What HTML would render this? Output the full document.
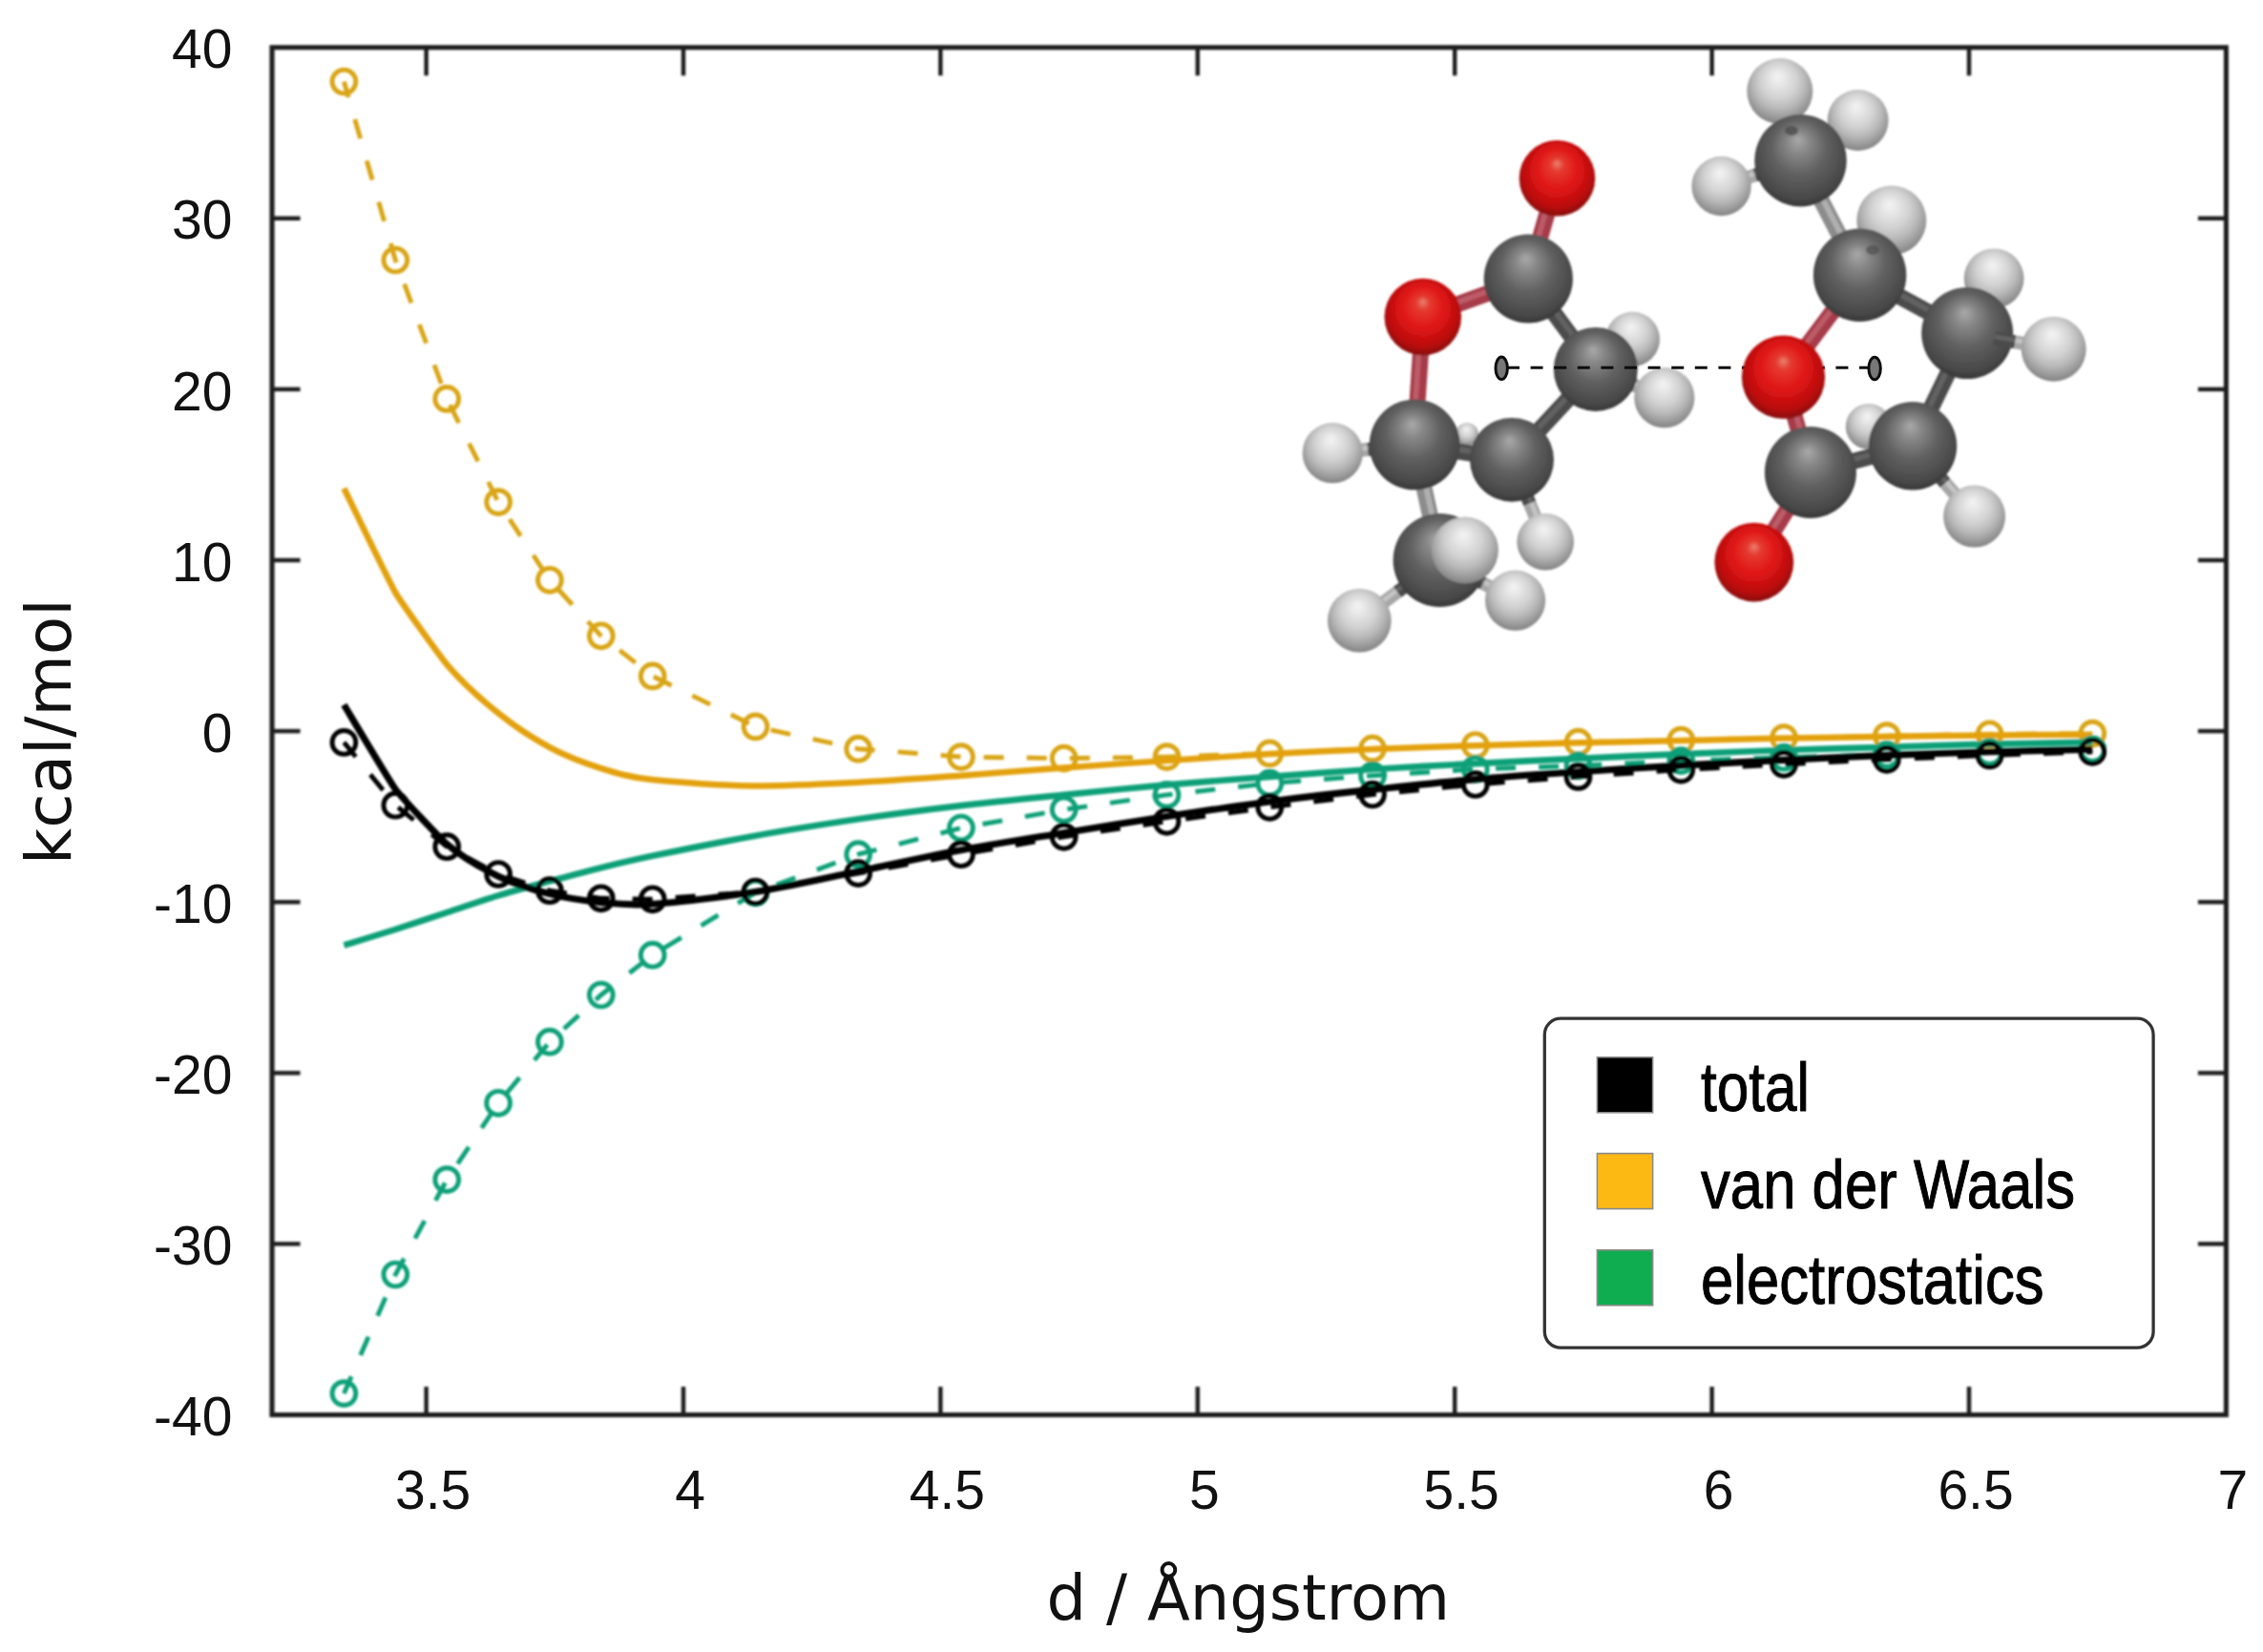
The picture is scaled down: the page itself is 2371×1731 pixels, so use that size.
<!DOCTYPE html>
<html lang="en"><head><meta charset="utf-8"><title>Interaction energy</title>
<style>html,body{margin:0;padding:0;background:#fff;overflow:hidden}svg{display:block}.tk{font-family:"Liberation Sans",sans-serif;font-size:57px;fill:#111}.ax{font-family:"DejaVu Sans","Liberation Sans",sans-serif;fill:#111}.lg{font-family:"Liberation Sans",sans-serif;font-size:73px;fill:#000;stroke:#000;stroke-width:1px}</style></head><body>
<svg width="2371" height="1731" viewBox="0 0 2371 1731">
<defs>
<radialGradient id="gC" cx="0.5" cy="0.44" r="0.58" fx="0.47" fy="0.27"><stop offset="0" stop-color="#a9a9a9"/><stop offset="0.22" stop-color="#868686"/><stop offset="0.52" stop-color="#606060"/><stop offset="0.85" stop-color="#494949"/><stop offset="1" stop-color="#343434"/></radialGradient>
<radialGradient id="gO" cx="0.5" cy="0.45" r="0.57" fx="0.5" fy="0.3"><stop offset="0" stop-color="#e8826e"/><stop offset="0.16" stop-color="#e53a30"/><stop offset="0.5" stop-color="#df1414"/><stop offset="0.82" stop-color="#b80e0e"/><stop offset="1" stop-color="#7c0909"/></radialGradient>
<radialGradient id="gH" cx="0.5" cy="0.42" r="0.6" fx="0.47" fy="0.27"><stop offset="0" stop-color="#f4f4f4"/><stop offset="0.22" stop-color="#e4e4e4"/><stop offset="0.45" stop-color="#d2d2d2"/><stop offset="0.65" stop-color="#bababa"/><stop offset="0.82" stop-color="#9e9e9e"/><stop offset="1" stop-color="#7e7e7e"/></radialGradient>
<filter id="soft" x="-5%" y="-5%" width="110%" height="110%"><feGaussianBlur stdDeviation="1.2"/></filter>
<filter id="soft2" x="-5%" y="-50%" width="110%" height="200%"><feGaussianBlur stdDeviation="0.6"/></filter>
<filter id="soft3" filterUnits="userSpaceOnUse" x="0" y="0" width="2371" height="1731"><feGaussianBlur stdDeviation="0.9"/></filter>
</defs>
<rect x="0" y="0" width="2371" height="1731" fill="#fff"/>
<g id="curves" stroke-linecap="butt" filter="url(#soft3)">
<polyline points="360.4,85.5 414.3,272.5 468.2,417.9 522.1,526.1 575.9,607.8 629.8,666.3 683.7,708.4 791.5,761.4 899.2,784.7 1007.0,793.1 1114.7,794.6 1222.5,793.1 1330.3,789.4 1438.0,784.4 1545.8,781.0 1653.5,777.7 1761.3,775.6 1869.0,773.1 1976.8,771.1 2084.6,769.3 2192.3,768.6" fill="none" stroke="#D9A513" stroke-width="4.9" stroke-dasharray="21 24.1" stroke-dashoffset="4"/>
<circle cx="360.4" cy="85.5" r="12.4" fill="none" stroke="#D9A513" stroke-width="4.9"/>
<circle cx="414.3" cy="272.5" r="12.4" fill="none" stroke="#D9A513" stroke-width="4.9"/>
<circle cx="468.2" cy="417.9" r="12.4" fill="none" stroke="#D9A513" stroke-width="4.9"/>
<circle cx="522.1" cy="526.1" r="12.4" fill="none" stroke="#D9A513" stroke-width="4.9"/>
<circle cx="575.9" cy="607.8" r="12.4" fill="none" stroke="#D9A513" stroke-width="4.9"/>
<circle cx="629.8" cy="666.3" r="12.4" fill="none" stroke="#D9A513" stroke-width="4.9"/>
<circle cx="683.7" cy="708.4" r="12.4" fill="none" stroke="#D9A513" stroke-width="4.9"/>
<circle cx="791.5" cy="761.4" r="12.4" fill="none" stroke="#D9A513" stroke-width="4.9"/>
<circle cx="899.2" cy="784.7" r="12.4" fill="none" stroke="#D9A513" stroke-width="4.9"/>
<circle cx="1007.0" cy="793.1" r="12.4" fill="none" stroke="#D9A513" stroke-width="4.9"/>
<circle cx="1114.7" cy="794.6" r="12.4" fill="none" stroke="#D9A513" stroke-width="4.9"/>
<circle cx="1222.5" cy="793.1" r="12.4" fill="none" stroke="#D9A513" stroke-width="4.9"/>
<circle cx="1330.3" cy="789.4" r="12.4" fill="none" stroke="#D9A513" stroke-width="4.9"/>
<circle cx="1438.0" cy="784.4" r="12.4" fill="none" stroke="#D9A513" stroke-width="4.9"/>
<circle cx="1545.8" cy="781.0" r="12.4" fill="none" stroke="#D9A513" stroke-width="4.9"/>
<circle cx="1653.5" cy="777.7" r="12.4" fill="none" stroke="#D9A513" stroke-width="4.9"/>
<circle cx="1761.3" cy="775.6" r="12.4" fill="none" stroke="#D9A513" stroke-width="4.9"/>
<circle cx="1869.0" cy="773.1" r="12.4" fill="none" stroke="#D9A513" stroke-width="4.9"/>
<circle cx="1976.8" cy="771.1" r="12.4" fill="none" stroke="#D9A513" stroke-width="4.9"/>
<circle cx="2084.6" cy="769.3" r="12.4" fill="none" stroke="#D9A513" stroke-width="4.9"/>
<circle cx="2192.3" cy="768.6" r="12.4" fill="none" stroke="#D9A513" stroke-width="4.9"/>
<path d="M360.4,511.8 C363.6,518.2 408.0,610.3 414.3,621.0 C420.6,631.8 461.9,688.9 468.2,696.3 C484.4,715.2 505.9,734.3 522.1,747.3 C538.2,760.3 559.8,774.4 575.9,783.1 C592.1,791.8 613.7,800.0 629.8,805.1 C646.0,810.2 659.5,814.4 683.7,817.1 C707.9,819.9 759.1,823.0 791.5,823.4 C823.8,823.8 866.9,821.4 899.2,819.8 C931.5,818.2 974.7,815.0 1007.0,812.7 C1039.3,810.4 1082.4,806.8 1114.7,804.4 C1147.1,802.1 1190.2,799.1 1222.5,796.9 C1254.8,794.8 1297.9,791.9 1330.3,790.1 C1362.6,788.3 1405.7,786.2 1438.0,784.9 C1470.3,783.6 1513.4,782.3 1545.8,781.3 C1578.1,780.3 1621.2,779.1 1653.5,778.3 C1685.9,777.5 1729.0,776.8 1761.3,776.1 C1793.6,775.4 1836.7,774.3 1869.0,773.6 C1901.4,773.0 1944.5,772.3 1976.8,771.8 C2009.1,771.3 2052.2,770.7 2084.6,770.4 C2116.9,770.1 2176.2,769.8 2192.3,769.7" fill="none" stroke="#E3A10A" stroke-width="6.5" stroke-linejoin="round"/>
<polyline points="360.4,1460.1 414.3,1335.5 468.2,1236.1 522.1,1155.8 575.9,1091.7 629.8,1042.5 683.7,1000.7 791.5,935.3 899.2,895.2 1007.0,867.5 1114.7,848.3 1222.5,832.9 1330.3,820.7 1438.0,812.7 1545.8,806.0 1653.5,802.3 1761.3,797.1 1869.0,793.7 1976.8,790.8 2084.6,788.1 2192.3,785.3" fill="none" stroke="#0FA078" stroke-width="4.9" stroke-dasharray="21 24.1" stroke-dashoffset="1.5"/>
<circle cx="360.4" cy="1460.1" r="12.4" fill="none" stroke="#0FA078" stroke-width="4.9"/>
<circle cx="414.3" cy="1335.5" r="12.4" fill="none" stroke="#0FA078" stroke-width="4.9"/>
<circle cx="468.2" cy="1236.1" r="12.4" fill="none" stroke="#0FA078" stroke-width="4.9"/>
<circle cx="522.1" cy="1155.8" r="12.4" fill="none" stroke="#0FA078" stroke-width="4.9"/>
<circle cx="575.9" cy="1091.7" r="12.4" fill="none" stroke="#0FA078" stroke-width="4.9"/>
<circle cx="629.8" cy="1042.5" r="12.4" fill="none" stroke="#0FA078" stroke-width="4.9"/>
<circle cx="683.7" cy="1000.7" r="12.4" fill="none" stroke="#0FA078" stroke-width="4.9"/>
<circle cx="791.5" cy="935.3" r="12.4" fill="none" stroke="#0FA078" stroke-width="4.9"/>
<circle cx="899.2" cy="895.2" r="12.4" fill="none" stroke="#0FA078" stroke-width="4.9"/>
<circle cx="1007.0" cy="867.5" r="12.4" fill="none" stroke="#0FA078" stroke-width="4.9"/>
<circle cx="1114.7" cy="848.3" r="12.4" fill="none" stroke="#0FA078" stroke-width="4.9"/>
<circle cx="1222.5" cy="832.9" r="12.4" fill="none" stroke="#0FA078" stroke-width="4.9"/>
<circle cx="1330.3" cy="820.7" r="12.4" fill="none" stroke="#0FA078" stroke-width="4.9"/>
<circle cx="1438.0" cy="812.7" r="12.4" fill="none" stroke="#0FA078" stroke-width="4.9"/>
<circle cx="1545.8" cy="806.0" r="12.4" fill="none" stroke="#0FA078" stroke-width="4.9"/>
<circle cx="1653.5" cy="802.3" r="12.4" fill="none" stroke="#0FA078" stroke-width="4.9"/>
<circle cx="1761.3" cy="797.1" r="12.4" fill="none" stroke="#0FA078" stroke-width="4.9"/>
<circle cx="1869.0" cy="793.7" r="12.4" fill="none" stroke="#0FA078" stroke-width="4.9"/>
<circle cx="1976.8" cy="790.8" r="12.4" fill="none" stroke="#0FA078" stroke-width="4.9"/>
<circle cx="2084.6" cy="788.1" r="12.4" fill="none" stroke="#0FA078" stroke-width="4.9"/>
<circle cx="2192.3" cy="785.3" r="12.4" fill="none" stroke="#0FA078" stroke-width="4.9"/>
<path d="M360.4,990.5 C363.6,989.5 408.0,975.9 414.3,973.9 C420.6,971.9 461.9,958.2 468.2,956.1 C484.4,950.8 505.9,943.3 522.1,938.4 C538.2,933.5 559.8,927.7 575.9,923.3 C592.1,919.0 613.7,913.2 629.8,909.2 C646.0,905.2 659.5,901.9 683.7,896.8 C707.9,891.8 759.1,881.5 791.5,875.7 C823.8,869.9 866.9,863.1 899.2,858.3 C931.5,853.6 974.7,848.0 1007.0,844.2 C1039.3,840.4 1082.4,836.2 1114.7,832.9 C1147.1,829.6 1190.2,825.2 1222.5,822.3 C1254.8,819.5 1297.9,816.4 1330.3,813.9 C1362.6,811.5 1405.7,808.1 1438.0,806.0 C1470.3,804.0 1513.4,801.8 1545.8,800.1 C1578.1,798.5 1621.2,796.4 1653.5,794.9 C1685.9,793.4 1729.0,791.4 1761.3,790.1 C1793.6,788.8 1836.7,787.1 1869.0,786.0 C1901.4,784.9 1944.5,783.7 1976.8,782.8 C2009.1,781.8 2052.2,780.5 2084.6,779.7 C2116.9,779.0 2176.2,778.0 2192.3,777.7" fill="none" stroke="#0FA078" stroke-width="6.7" stroke-linejoin="round"/>
<polyline points="360.4,777.9 414.3,843.7 468.2,887.2 522.1,916.0 575.9,933.2 629.8,941.3 683.7,942.3 791.5,934.5 899.2,915.1 1007.0,895.2 1114.7,876.8 1222.5,860.8 1330.3,845.8 1438.0,832.5 1545.8,822.0 1653.5,813.9 1761.3,806.6 1869.0,800.8 1976.8,795.8 2084.6,791.4 2192.3,787.8" fill="none" stroke="#050505" stroke-width="4.9" stroke-dasharray="21 24.1" stroke-dashoffset="1.5"/>
<circle cx="360.4" cy="777.9" r="12.4" fill="none" stroke="#050505" stroke-width="4.9"/>
<circle cx="414.3" cy="843.7" r="12.4" fill="none" stroke="#050505" stroke-width="4.9"/>
<circle cx="468.2" cy="887.2" r="12.4" fill="none" stroke="#050505" stroke-width="4.9"/>
<circle cx="522.1" cy="916.0" r="12.4" fill="none" stroke="#050505" stroke-width="4.9"/>
<circle cx="575.9" cy="933.2" r="12.4" fill="none" stroke="#050505" stroke-width="4.9"/>
<circle cx="629.8" cy="941.3" r="12.4" fill="none" stroke="#050505" stroke-width="4.9"/>
<circle cx="683.7" cy="942.3" r="12.4" fill="none" stroke="#050505" stroke-width="4.9"/>
<circle cx="791.5" cy="934.5" r="12.4" fill="none" stroke="#050505" stroke-width="4.9"/>
<circle cx="899.2" cy="915.1" r="12.4" fill="none" stroke="#050505" stroke-width="4.9"/>
<circle cx="1007.0" cy="895.2" r="12.4" fill="none" stroke="#050505" stroke-width="4.9"/>
<circle cx="1114.7" cy="876.8" r="12.4" fill="none" stroke="#050505" stroke-width="4.9"/>
<circle cx="1222.5" cy="860.8" r="12.4" fill="none" stroke="#050505" stroke-width="4.9"/>
<circle cx="1330.3" cy="845.8" r="12.4" fill="none" stroke="#050505" stroke-width="4.9"/>
<circle cx="1438.0" cy="832.5" r="12.4" fill="none" stroke="#050505" stroke-width="4.9"/>
<circle cx="1545.8" cy="822.0" r="12.4" fill="none" stroke="#050505" stroke-width="4.9"/>
<circle cx="1653.5" cy="813.9" r="12.4" fill="none" stroke="#050505" stroke-width="4.9"/>
<circle cx="1761.3" cy="806.6" r="12.4" fill="none" stroke="#050505" stroke-width="4.9"/>
<circle cx="1869.0" cy="800.8" r="12.4" fill="none" stroke="#050505" stroke-width="4.9"/>
<circle cx="1976.8" cy="795.8" r="12.4" fill="none" stroke="#050505" stroke-width="4.9"/>
<circle cx="2084.6" cy="791.4" r="12.4" fill="none" stroke="#050505" stroke-width="4.9"/>
<circle cx="2192.3" cy="787.8" r="12.4" fill="none" stroke="#050505" stroke-width="4.9"/>
<path d="M360.4,738.5 C363.6,743.7 408.0,818.5 414.3,827.0 C420.6,835.5 461.9,879.2 468.2,884.5 C484.4,898.2 505.9,910.3 522.1,918.2 C538.2,926.0 559.8,932.5 575.9,936.6 C592.1,940.7 613.7,943.9 629.8,945.6 C646.0,947.2 659.5,949.0 683.7,947.3 C707.9,945.7 759.1,939.6 791.5,934.5 C823.8,929.3 866.9,919.5 899.2,913.0 C931.5,906.4 974.7,896.8 1007.0,890.8 C1039.3,884.7 1082.4,878.0 1114.7,872.7 C1147.1,867.4 1190.2,860.4 1222.5,855.5 C1254.8,850.6 1297.9,844.1 1330.3,839.9 C1362.6,835.7 1405.7,830.8 1438.0,827.4 C1470.3,823.9 1513.4,819.4 1545.8,816.6 C1578.1,813.8 1621.2,810.9 1653.5,808.7 C1685.9,806.5 1729.0,804.0 1761.3,802.1 C1793.6,800.2 1836.7,798.0 1869.0,796.4 C1901.4,794.8 1944.5,792.6 1976.8,791.4 C2009.1,790.1 2052.2,788.7 2084.6,787.8 C2116.9,786.9 2176.2,785.6 2192.3,785.3" fill="none" stroke="#050505" stroke-width="7.1" stroke-linejoin="round"/>
</g>
<g id="molecule" stroke-linecap="butt" filter="url(#soft)">
<circle cx="1710.5" cy="355.3" r="28.5" fill="url(#gH)"/>
<circle cx="1537.0" cy="455.0" r="12.0" fill="url(#gH)"/>
<line x1="1692.2" y1="370.2" x2="1700.6" y2="363.3" stroke="#4b4b4b" stroke-width="13"/>
<line x1="1691.3" y1="369.0" x2="1699.7" y2="362.1" stroke="#6a6a6a" stroke-width="4.4" opacity="0.75"/>
<line x1="1700.6" y1="363.3" x2="1697.3" y2="366.1" stroke="#a6a6a6" stroke-width="13"/>
<line x1="1699.7" y1="362.1" x2="1696.3" y2="364.9" stroke="#cfcfcf" stroke-width="4.4" opacity="0.75"/>
<line x1="1624.9" y1="209.8" x2="1609.0" y2="265.1" stroke="#a63a48" stroke-width="17"/>
<line x1="1623.0" y1="209.2" x2="1607.1" y2="264.6" stroke="#c46672" stroke-width="5.8" opacity="0.75"/>
<line x1="1513.5" y1="323.8" x2="1575.0" y2="301.5" stroke="#a63a48" stroke-width="17"/>
<line x1="1512.8" y1="321.9" x2="1574.3" y2="299.6" stroke="#c46672" stroke-width="5.8" opacity="0.75"/>
<line x1="1489.3" y1="356.1" x2="1484.0" y2="437.5" stroke="#a63a48" stroke-width="17"/>
<line x1="1487.2" y1="356.0" x2="1482.0" y2="437.4" stroke="#c46672" stroke-width="5.8" opacity="0.75"/>
<line x1="1618.0" y1="314.4" x2="1656.1" y2="365.7" stroke="#4b4b4b" stroke-width="17"/>
<line x1="1619.6" y1="313.2" x2="1657.7" y2="364.5" stroke="#6a6a6a" stroke-width="5.8" opacity="0.75"/>
<line x1="1653.9" y1="406.3" x2="1601.9" y2="462.3" stroke="#4b4b4b" stroke-width="17"/>
<line x1="1652.4" y1="404.9" x2="1600.4" y2="460.9" stroke="#6a6a6a" stroke-width="5.8" opacity="0.75"/>
<line x1="1510.3" y1="470.3" x2="1557.9" y2="477.7" stroke="#4b4b4b" stroke-width="17"/>
<line x1="1510.6" y1="468.2" x2="1558.2" y2="475.6" stroke="#6a6a6a" stroke-width="5.8" opacity="0.75"/>
<line x1="1453.9" y1="468.8" x2="1432.8" y2="471.0" stroke="#4b4b4b" stroke-width="14"/>
<line x1="1453.7" y1="467.1" x2="1432.7" y2="469.3" stroke="#6a6a6a" stroke-width="4.8" opacity="0.75"/>
<line x1="1432.8" y1="471.0" x2="1415.1" y2="472.8" stroke="#a6a6a6" stroke-width="14"/>
<line x1="1432.7" y1="469.3" x2="1414.9" y2="471.1" stroke="#cfcfcf" stroke-width="4.8" opacity="0.75"/>
<line x1="1488.3" y1="493.7" x2="1502.3" y2="558.3" stroke="#8c8c8c" stroke-width="17"/>
<line x1="1490.3" y1="493.3" x2="1504.3" y2="557.8" stroke="#bdbdbd" stroke-width="5.8" opacity="0.75"/>
<line x1="1594.0" y1="506.1" x2="1602.8" y2="527.7" stroke="#4b4b4b" stroke-width="14"/>
<line x1="1595.6" y1="505.5" x2="1604.4" y2="527.1" stroke="#6a6a6a" stroke-width="4.8" opacity="0.75"/>
<line x1="1602.8" y1="527.7" x2="1612.4" y2="551.2" stroke="#a6a6a6" stroke-width="14"/>
<line x1="1604.4" y1="527.1" x2="1614.0" y2="550.5" stroke="#cfcfcf" stroke-width="4.8" opacity="0.75"/>
<line x1="1485.1" y1="604.6" x2="1463.9" y2="620.5" stroke="#4b4b4b" stroke-width="14"/>
<line x1="1484.1" y1="603.3" x2="1462.9" y2="619.2" stroke="#6a6a6a" stroke-width="4.8" opacity="0.75"/>
<line x1="1463.9" y1="620.5" x2="1440.3" y2="638.2" stroke="#a6a6a6" stroke-width="14"/>
<line x1="1462.9" y1="619.2" x2="1439.3" y2="636.8" stroke="#cfcfcf" stroke-width="4.8" opacity="0.75"/>
<line x1="1534.5" y1="600.9" x2="1554.2" y2="611.4" stroke="#4b4b4b" stroke-width="14"/>
<line x1="1535.3" y1="599.4" x2="1555.0" y2="609.9" stroke="#6a6a6a" stroke-width="4.8" opacity="0.75"/>
<line x1="1554.2" y1="611.4" x2="1570.9" y2="620.3" stroke="#a6a6a6" stroke-width="14"/>
<line x1="1555.0" y1="609.9" x2="1571.7" y2="618.8" stroke="#cfcfcf" stroke-width="4.8" opacity="0.75"/>
<line x1="1696.2" y1="397.0" x2="1713.1" y2="404.0" stroke="#4b4b4b" stroke-width="14"/>
<line x1="1696.8" y1="395.4" x2="1713.7" y2="402.4" stroke="#6a6a6a" stroke-width="4.8" opacity="0.75"/>
<line x1="1713.1" y1="404.0" x2="1726.3" y2="409.4" stroke="#a6a6a6" stroke-width="14"/>
<line x1="1713.7" y1="402.4" x2="1726.9" y2="407.9" stroke="#cfcfcf" stroke-width="4.8" opacity="0.75"/>
<circle cx="1631.5" cy="186.8" r="39.8" fill="url(#gO)"/>
<circle cx="1601.3" cy="292.0" r="46.6" fill="url(#gC)"/>
<circle cx="1490.8" cy="332.0" r="40.3" fill="url(#gO)"/>
<circle cx="1396.2" cy="474.7" r="31.6" fill="url(#gH)"/>
<circle cx="1482.2" cy="465.9" r="47.4" fill="url(#gC)"/>
<circle cx="1584.0" cy="481.7" r="44.0" fill="url(#gC)"/>
<circle cx="1671.8" cy="386.9" r="44.0" fill="url(#gC)"/>
<circle cx="1743.8" cy="416.7" r="31.6" fill="url(#gH)"/>
<circle cx="1619.2" cy="567.7" r="29.8" fill="url(#gH)"/>
<circle cx="1424.3" cy="650.2" r="33.4" fill="url(#gH)"/>
<circle cx="1508.6" cy="587.0" r="49.0" fill="url(#gC)"/>
<circle cx="1587.6" cy="629.2" r="31.6" fill="url(#gH)"/>
<circle cx="1534.9" cy="576.5" r="35.0" fill="url(#gH)"/>
<circle cx="1981.8" cy="230.9" r="36.5" fill="url(#gH)"/>
<circle cx="2089.1" cy="291.8" r="31.4" fill="url(#gH)"/>
<circle cx="1957.8" cy="446.9" r="24.0" fill="url(#gH)"/>
<circle cx="1864.8" cy="95.5" r="34.5" fill="url(#gH)"/>
<circle cx="1946.6" cy="126.0" r="32.0" fill="url(#gH)"/>
<line x1="1859.0" y1="177.1" x2="1838.4" y2="183.7" stroke="#4b4b4b" stroke-width="14"/>
<line x1="1858.5" y1="175.5" x2="1837.9" y2="182.1" stroke="#6a6a6a" stroke-width="4.8" opacity="0.75"/>
<line x1="1838.4" y1="183.7" x2="1821.4" y2="189.2" stroke="#a6a6a6" stroke-width="14"/>
<line x1="1837.9" y1="182.1" x2="1820.9" y2="187.6" stroke="#cfcfcf" stroke-width="4.8" opacity="0.75"/>
<line x1="1899.8" y1="193.9" x2="1935.2" y2="262.2" stroke="#8c8c8c" stroke-width="17"/>
<line x1="1901.6" y1="192.9" x2="1937.0" y2="261.3" stroke="#bdbdbd" stroke-width="5.8" opacity="0.75"/>
<line x1="1974.3" y1="302.1" x2="2035.9" y2="335.4" stroke="#4b4b4b" stroke-width="17"/>
<line x1="1975.3" y1="300.3" x2="2036.8" y2="333.6" stroke="#6a6a6a" stroke-width="5.8" opacity="0.75"/>
<line x1="1931.1" y1="311.6" x2="1884.2" y2="374.3" stroke="#a63a48" stroke-width="17"/>
<line x1="1929.5" y1="310.4" x2="1882.5" y2="373.0" stroke="#c46672" stroke-width="5.8" opacity="0.75"/>
<line x1="2048.6" y1="375.0" x2="2016.1" y2="442.3" stroke="#4b4b4b" stroke-width="17"/>
<line x1="2046.8" y1="374.1" x2="2014.2" y2="441.4" stroke="#6a6a6a" stroke-width="5.8" opacity="0.75"/>
<line x1="1977.2" y1="474.1" x2="1924.8" y2="487.7" stroke="#4b4b4b" stroke-width="17"/>
<line x1="1976.7" y1="472.2" x2="1924.3" y2="485.7" stroke="#6a6a6a" stroke-width="5.8" opacity="0.75"/>
<line x1="2022.2" y1="488.1" x2="2038.2" y2="506.4" stroke="#4b4b4b" stroke-width="14"/>
<line x1="2023.5" y1="487.0" x2="2039.5" y2="505.3" stroke="#6a6a6a" stroke-width="4.8" opacity="0.75"/>
<line x1="2038.2" y1="506.4" x2="2055.8" y2="526.4" stroke="#a6a6a6" stroke-width="14"/>
<line x1="2039.5" y1="505.3" x2="2057.0" y2="525.3" stroke="#cfcfcf" stroke-width="4.8" opacity="0.75"/>
<line x1="1875.7" y1="420.4" x2="1889.0" y2="467.2" stroke="#a63a48" stroke-width="17"/>
<line x1="1877.6" y1="419.8" x2="1891.0" y2="466.6" stroke="#c46672" stroke-width="5.8" opacity="0.75"/>
<line x1="1881.6" y1="519.3" x2="1851.0" y2="568.1" stroke="#a63a48" stroke-width="17"/>
<line x1="1879.9" y1="518.2" x2="1849.3" y2="567.0" stroke="#c46672" stroke-width="5.8" opacity="0.75"/>
<circle cx="1803.6" cy="195.0" r="31.2" fill="url(#gH)"/>
<circle cx="1886.5" cy="168.2" r="48.2" fill="url(#gC)"/>
<ellipse cx="1877" cy="137" rx="7" ry="5" fill="#4e4e4e" opacity="0.8"/>
<circle cx="1948.6" cy="288.2" r="48.7" fill="url(#gC)"/>
<ellipse cx="1962" cy="262" rx="7" ry="5" fill="#4e4e4e" opacity="0.7"/>
<circle cx="2061.2" cy="349.1" r="48.0" fill="url(#gC)"/>
<line x1="2089.5" y1="354.3" x2="2111.4" y2="358.3" stroke="#4b4b4b" stroke-width="14"/>
<line x1="2089.8" y1="352.6" x2="2111.7" y2="356.6" stroke="#6a6a6a" stroke-width="4.8" opacity="0.75"/>
<line x1="2111.4" y1="358.3" x2="2131.6" y2="362.0" stroke="#a6a6a6" stroke-width="14"/>
<line x1="2111.7" y1="356.6" x2="2131.9" y2="360.4" stroke="#cfcfcf" stroke-width="4.8" opacity="0.75"/>
<circle cx="2151.7" cy="365.7" r="34.0" fill="url(#gH)"/>
<circle cx="1896.9" cy="494.9" r="48.0" fill="url(#gC)"/>
<circle cx="2004.0" cy="467.2" r="46.2" fill="url(#gC)"/>
<circle cx="2068.6" cy="541.1" r="32.5" fill="url(#gH)"/>
<circle cx="1837.8" cy="589.1" r="41.4" fill="url(#gO)"/>
</g>
<g id="distance" filter="url(#soft2)">
<line x1="1573" y1="385.3" x2="1964" y2="385.3" stroke="#111" stroke-width="3" stroke-dasharray="13 11.6" stroke-dashoffset="-6"/>
<ellipse cx="1573.2" cy="385.8" rx="6.2" ry="11.8" fill="#777" stroke="#111" stroke-width="3"/>
<ellipse cx="1964.1" cy="386" rx="6.2" ry="11.8" fill="#777" stroke="#111" stroke-width="3"/>
</g>
<g filter="url(#soft)">
<circle cx="1868.5" cy="395.2" r="43.6" fill="url(#gO)"/>
</g>
<g id="axes" stroke="#1c1c1c" stroke-width="5" fill="none" stroke-linecap="butt" filter="url(#soft3)">
<rect x="285.0" y="49.7" width="2047.4" height="1432.8"/>
<line stroke-width="4.4" x1="446.6" y1="1482.5" x2="446.6" y2="1453.0"/>
<line stroke-width="4.4" x1="446.6" y1="49.7" x2="446.6" y2="79.2"/>
<line stroke-width="4.4" x1="716.0" y1="1482.5" x2="716.0" y2="1453.0"/>
<line stroke-width="4.4" x1="716.0" y1="49.7" x2="716.0" y2="79.2"/>
<line stroke-width="4.4" x1="985.4" y1="1482.5" x2="985.4" y2="1453.0"/>
<line stroke-width="4.4" x1="985.4" y1="49.7" x2="985.4" y2="79.2"/>
<line stroke-width="4.4" x1="1254.8" y1="1482.5" x2="1254.8" y2="1453.0"/>
<line stroke-width="4.4" x1="1254.8" y1="49.7" x2="1254.8" y2="79.2"/>
<line stroke-width="4.4" x1="1524.2" y1="1482.5" x2="1524.2" y2="1453.0"/>
<line stroke-width="4.4" x1="1524.2" y1="49.7" x2="1524.2" y2="79.2"/>
<line stroke-width="4.4" x1="1793.6" y1="1482.5" x2="1793.6" y2="1453.0"/>
<line stroke-width="4.4" x1="1793.6" y1="49.7" x2="1793.6" y2="79.2"/>
<line stroke-width="4.4" x1="2063.0" y1="1482.5" x2="2063.0" y2="1453.0"/>
<line stroke-width="4.4" x1="2063.0" y1="49.7" x2="2063.0" y2="79.2"/>
<line stroke-width="4.4" x1="285.0" y1="1303.4" x2="314.5" y2="1303.4"/>
<line stroke-width="4.4" x1="2332.4" y1="1303.4" x2="2302.9" y2="1303.4"/>
<line stroke-width="4.4" x1="285.0" y1="1124.3" x2="314.5" y2="1124.3"/>
<line stroke-width="4.4" x1="2332.4" y1="1124.3" x2="2302.9" y2="1124.3"/>
<line stroke-width="4.4" x1="285.0" y1="945.2" x2="314.5" y2="945.2"/>
<line stroke-width="4.4" x1="2332.4" y1="945.2" x2="2302.9" y2="945.2"/>
<line stroke-width="4.4" x1="285.0" y1="766.1" x2="314.5" y2="766.1"/>
<line stroke-width="4.4" x1="2332.4" y1="766.1" x2="2302.9" y2="766.1"/>
<line stroke-width="4.4" x1="285.0" y1="587.0" x2="314.5" y2="587.0"/>
<line stroke-width="4.4" x1="2332.4" y1="587.0" x2="2302.9" y2="587.0"/>
<line stroke-width="4.4" x1="285.0" y1="407.9" x2="314.5" y2="407.9"/>
<line stroke-width="4.4" x1="2332.4" y1="407.9" x2="2302.9" y2="407.9"/>
<line stroke-width="4.4" x1="285.0" y1="228.8" x2="314.5" y2="228.8"/>
<line stroke-width="4.4" x1="2332.4" y1="228.8" x2="2302.9" y2="228.8"/>
</g>
<g id="ticklabels" class="tk">
<text x="453.6" y="1580.8" text-anchor="middle">3.5</text>
<text x="723.0" y="1580.8" text-anchor="middle">4</text>
<text x="992.4" y="1580.8" text-anchor="middle">4.5</text>
<text x="1261.8" y="1580.8" text-anchor="middle">5</text>
<text x="1531.2" y="1580.8" text-anchor="middle">5.5</text>
<text x="1800.6" y="1580.8" text-anchor="middle">6</text>
<text x="2070.0" y="1580.8" text-anchor="middle">6.5</text>
<text x="2339.4" y="1580.8" text-anchor="middle">7</text>
<text x="243.5" y="1504.1" text-anchor="end">-40</text>
<text x="243.5" y="1325.0" text-anchor="end">-30</text>
<text x="243.5" y="1145.9" text-anchor="end">-20</text>
<text x="243.5" y="966.8" text-anchor="end">-10</text>
<text x="243.5" y="787.7" text-anchor="end">0</text>
<text x="243.5" y="608.6" text-anchor="end">10</text>
<text x="243.5" y="429.5" text-anchor="end">20</text>
<text x="243.5" y="250.4" text-anchor="end">30</text>
<text x="243.5" y="71.3" text-anchor="end">40</text>
</g>
<text class="ax" x="1096.6" y="1696.5" font-size="65.5">d / Ångstrom</text>
<text class="ax" font-size="66" transform="translate(74.2 906) rotate(-90)">kcal/mol</text>
<g id="legend">
<rect x="1618.3" y="1067.2" width="637.8" height="345" rx="17" ry="17" fill="#fff" stroke="#333" stroke-width="3.3"/>
<rect x="1673.4" y="1107.8" width="58.2" height="58" fill="#000" stroke="#8a8a8a" stroke-width="1.6"/>
<rect x="1673.4" y="1208.6" width="58.2" height="58" fill="#FDB913" stroke="#8a8a8a" stroke-width="1.6"/>
<rect x="1673.4" y="1309.8" width="58.2" height="58" fill="#10AD50" stroke="#8a8a8a" stroke-width="1.6"/>
<text class="lg" x="1782" y="1163.6" textLength="114" lengthAdjust="spacingAndGlyphs">total</text>
<text class="lg" x="1782" y="1266" textLength="392" lengthAdjust="spacingAndGlyphs">van der Waals</text>
<text class="lg" x="1782" y="1365.6" textLength="359.5" lengthAdjust="spacingAndGlyphs">electrostatics</text>
</g>
</svg>
</body></html>
